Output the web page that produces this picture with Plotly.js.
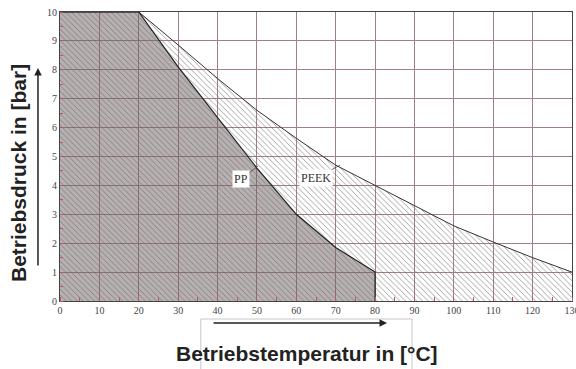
<!DOCTYPE html>
<html>
<head>
<meta charset="utf-8">
<script src="https://cdn.plot.ly/plotly-3.0.1.min.js"></script>
<style>html,body{margin:0;padding:0;background:#fff;}#chart{width:576px;height:369px;}</style>
</head>
<body>
<div id="chart"></div>
<script>
// Temperatures (°C) and max operating pressure (bar)
const peekTemp = [0, 20, 30, 40, 50, 60, 70, 80, 90, 100, 110, 120, 130];
const peekPressure = [10, 10, 8.86, 7.7, 6.6, 5.63, 4.7, 4.0, 3.3, 2.6, 2.04, 1.5, 1.0];
const ppTemp = [0, 20, 30, 40, 50, 60, 70, 80, 80];
const ppPressure = [10, 10, 8.1, 6.35, 4.6, 3.0, 1.85, 1.0, 0];
const xTickVals = [0, 10, 20, 30, 40, 50, 60, 70, 80, 90, 100, 110, 120, 130];
const yTickVals = [0, 1, 2, 3, 4, 5, 6, 7, 8, 9, 10];
const xTitle = 'Betriebstemperatur in [°C]';
const yTitle = 'Betriebsdruck in [bar]';

const traces = [
  {
    x: peekTemp, y: peekPressure, type: 'scatter', mode: 'lines',
    line: {color: '#333', width: 1},
    fill: 'tozeroy',
    fillcolor: 'rgba(0,0,0,0)',
    fillpattern: {shape: '\\', size: 4, solidity: 0.15, fgcolor: '#6a6a6a', bgcolor: 'rgba(255,255,255,0)'},
    hoverinfo: 'skip', showlegend: false
  },
  {
    x: ppTemp, y: ppPressure, type: 'scatter', mode: 'lines',
    line: {color: '#222', width: 1.2},
    fill: 'tozeroy',
    fillcolor: 'rgba(110,98,98,0.5)',
    hoverinfo: 'skip', showlegend: false
  }
];

const tickFont = {family: 'Liberation Serif, serif', size: 10, color: '#444'};
const gridCol = '#a27e88';
const layout = {
  width: 576, height: 369,
  margin: {l: 60, r: 4, t: 12, b: 68},
  paper_bgcolor: '#fff', plot_bgcolor: '#fff',
  showlegend: false,
  xaxis: {
    range: [0, 130], tickvals: xTickVals, ticks: '', tickfont: tickFont,
    ticklabeloverflow: 'allow',
    showgrid: true, gridcolor: gridCol, gridwidth: 1,
    zeroline: false, showline: true, mirror: true, linecolor: '#444', linewidth: 1,
    minor: {dtick: 5, ticks: 'inside', ticklen: 4, tickcolor: '#d05060', showgrid: false},
    fixedrange: true
  },
  yaxis: {
    range: [0, 10], tickvals: yTickVals, ticks: '', tickfont: tickFont,
    showgrid: true, gridcolor: gridCol, gridwidth: 1,
    zeroline: false, showline: true, mirror: true, linecolor: '#444', linewidth: 1,
    minor: {dtick: 0.5, ticks: 'inside', ticklen: 3, tickcolor: '#d05060', showgrid: false},
    fixedrange: true
  },
  shapes: [
    {type: 'rect', xref: 'paper', yref: 'paper', x0: 0.275, x1: 0.6875, y0: -0.0623, y1: -0.3,
     line: {color: '#c8c8c8', width: 1}, fillcolor: 'rgba(0,0,0,0)', layer: 'below'}
  ],
  annotations: [
    {text: 'PP', x: 50.3, y: 4.67, xref: 'x', yref: 'y', showarrow: true, arrowhead: 0,
     arrowwidth: 0.8, arrowcolor: '#444', ax: -17, ay: 13, bgcolor: '#fff', borderpad: 1,
     font: {family: 'Liberation Serif, serif', size: 12, color: '#333'}},
    {text: 'PEEK', x: 71.1, y: 4.7, xref: 'x', yref: 'y', showarrow: true, arrowhead: 0,
     arrowwidth: 0.8, arrowcolor: '#444', ax: -24, ay: 13, bgcolor: '#fff', borderpad: 1,
     font: {family: 'Liberation Serif, serif', size: 12, color: '#333'}},
    {text: xTitle, xref: 'paper', yref: 'paper', x: 0.482, y: -0.18, showarrow: false,
     xanchor: 'center', yanchor: 'middle',
     font: {family: 'Liberation Sans, Arial, sans-serif', size: 21, color: '#222', weight: 'bold'}},
    {text: yTitle, xref: 'paper', yref: 'paper', x: -0.080, y: 0.443, showarrow: false,
     textangle: -90, xanchor: 'center', yanchor: 'middle',
     font: {family: 'Liberation Sans, Arial, sans-serif', size: 21, color: '#222', weight: 'bold'}},
    {text: '', xref: 'paper', yref: 'paper', x: 0.6387, y: -0.0761, showarrow: true,
     arrowhead: 2, arrowsize: 1, arrowwidth: 1.5, arrowcolor: '#222', ax: -175, ay: 0},
    {text: '', xref: 'paper', yref: 'paper', x: -0.043, y: 0.806, showarrow: true,
     arrowhead: 2, arrowsize: 1, arrowwidth: 1.5, arrowcolor: '#222', ax: 0, ay: 199}
  ]
};

Plotly.newPlot('chart', traces, layout, {staticPlot: true, displayModeBar: false});
</script>
</body>
</html>
